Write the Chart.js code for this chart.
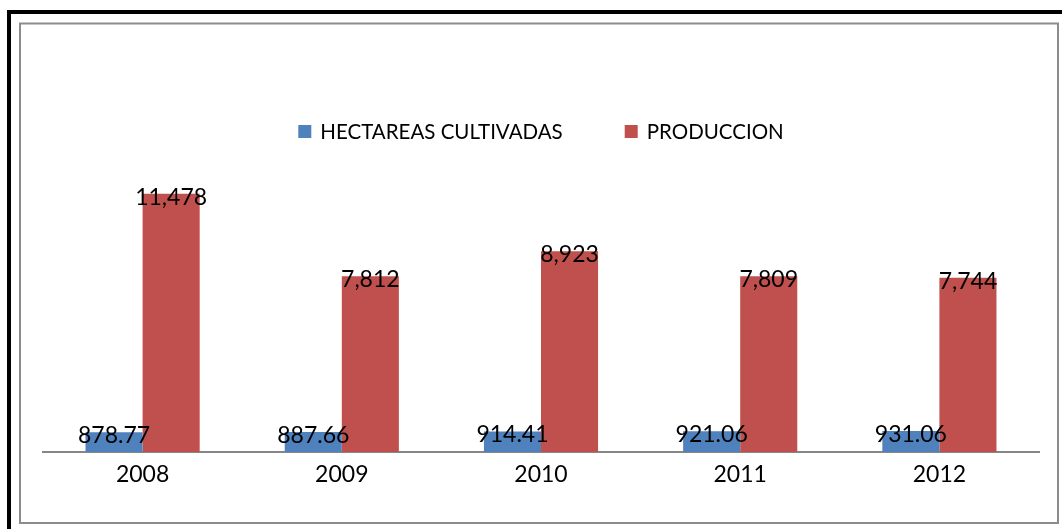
<!DOCTYPE html>
<html>
<head>
<meta charset="utf-8">
<script src="https://cdn.jsdelivr.net/npm/chart.js@4.4.0/dist/chart.umd.min.js"></script>
<style>
  html, body { margin: 0; padding: 0; background: #fff; }
  #wrap { position: relative; width: 1062px; height: 529px; }
</style>
</head>
<body>
<div id="wrap"><canvas id="chart" width="1062" height="529"></canvas></div>
<script>
// categories and series
const years = ["2008", "2009", "2010", "2011", "2012"];
const hectareas = [878.77, 887.66, 914.41, 921.06, 931.06];
const produccion = [11478, 7812, 8923, 7809, 7744];
const seriesNames = ["HECTAREAS CULTIVADAS", "PRODUCCION"];

const FONT = "Lato, 'Open Sans', sans-serif";

// frame: black outer line + grey inner box
const framePlugin = {
  id: "frame",
  beforeDraw(chart) {
    const ctx = chart.ctx;
    ctx.save();
    ctx.fillStyle = "#fff";
    ctx.fillRect(0, 0, chart.width, chart.height);
    ctx.strokeStyle = "#000";
    ctx.lineWidth = 4;
    ctx.beginPath();
    ctx.moveTo(9, 540);
    ctx.lineTo(9, 12);
    ctx.lineTo(1070, 12);
    ctx.stroke();
    ctx.strokeStyle = "#8c8c8c";
    ctx.lineWidth = 2;
    ctx.strokeRect(20, 23.5, 1038, 499.5);
    ctx.restore();
  }
};

// value labels sitting on the bar tops
const labelPlugin = {
  id: "barLabels",
  afterDatasetsDraw(chart) {
    const ctx = chart.ctx;
    ctx.save();
    ctx.font = "23px " + FONT;
    ctx.fillStyle = "#000";
    ctx.textAlign = "center";
    ctx.textBaseline = "alphabetic";
    chart.data.datasets.forEach((ds, i) => {
      chart.getDatasetMeta(i).data.forEach((bar, j) => {
        const v = ds.data[j];
        const txt = i === 0 ? v.toFixed(2) : v.toLocaleString("en-US");
        ctx.fillText(txt, bar.x, bar.y + 11);
      });
    });
    ctx.restore();
  }
};

// legend drawn by hand so it can sit over the plot area like the original
const legendPlugin = {
  id: "topLegend",
  afterDraw(chart) {
    const ctx = chart.ctx;
    const area = chart.chartArea;
    const box = 13, gap = 9, spacing = 62, cy = 131.5;
    ctx.save();
    ctx.font = "20.5px " + FONT;
    const items = chart.data.datasets.map(ds => ({ text: ds.label, color: ds.backgroundColor, w: ctx.measureText(ds.label).width }));
    const total = items.reduce((s, it) => s + box + gap + it.w, 0) + spacing * (items.length - 1);
    let x = (area.left + area.right) / 2 - total / 2;
    ctx.textBaseline = "middle";
    ctx.textAlign = "left";
    items.forEach(it => {
      ctx.fillStyle = it.color;
      ctx.fillRect(x, cy - box / 2, box, box);
      ctx.fillStyle = "#000";
      ctx.fillText(it.text, x + box + gap, cy + 1);
      x += box + gap + it.w + spacing;
    });
    ctx.restore();
  }
};

new Chart(document.getElementById("chart"), {
  type: "bar",
  data: {
    labels: years,
    datasets: [
      { label: seriesNames[0], data: hectareas, backgroundColor: "#4f81bd" },
      { label: seriesNames[1], data: produccion, backgroundColor: "#c0504d" }
    ]
  },
  options: {
    responsive: false,
    animation: false,
    layout: { padding: { left: 43, right: 23, top: 137, bottom: 37 } },
    datasets: { bar: { categoryPercentage: 0.573, barPercentage: 1 } },
    plugins: { legend: { display: false }, tooltip: { enabled: false } },
    scales: {
      x: {
        grid: { display: false, drawTicks: false },
        border: { display: true, color: "#868686", width: 2 },
        ticks: { color: "#000", font: { family: FONT, size: 23 }, padding: 9 },
        afterFit(scale) { scale.height = 40; }
      },
      y: { display: false, min: 0, max: 14000 }
    }
  },
  plugins: [framePlugin, labelPlugin, legendPlugin]
});
</script>
</body>
</html>
